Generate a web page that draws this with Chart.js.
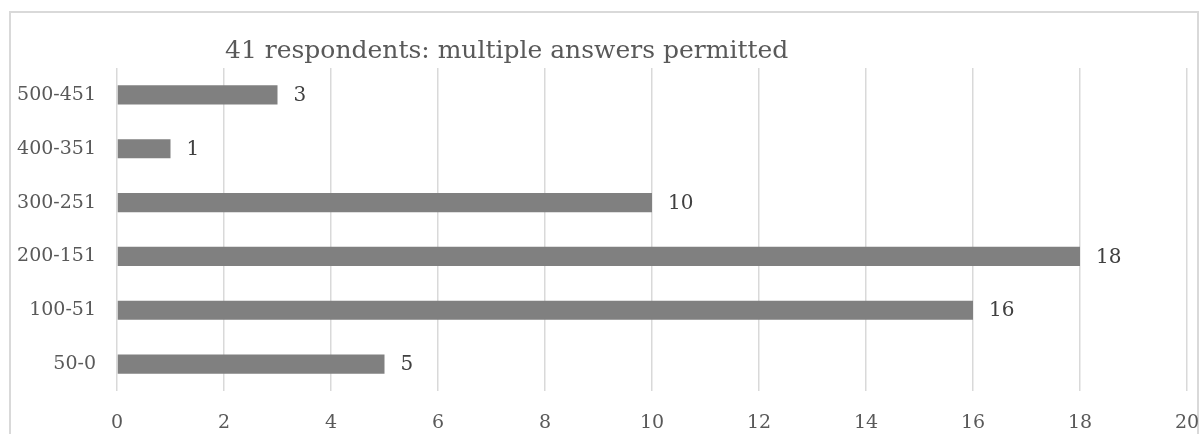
<!DOCTYPE html>
<html>
<head>
<meta charset="utf-8">
<script src="https://cdn.jsdelivr.net/npm/chart.js@4/dist/chart.umd.min.js"></script>
<style>
  html, body { margin: 0; padding: 0; background: #fff; overflow: hidden; }
  .marco { position: absolute; left: 9px; top: 11px; width: 1190px; height: 500px; border: 2px solid #d9d9d9; box-sizing: border-box; }
  .lienzo { position: absolute; left: 0; top: 0; width: 1204px; height: 434px; }
</style>
</head>
<body>
<div class="marco"></div>
<div class="lienzo"><canvas id="cntGrafica"></canvas></div>
<script>
  // datos
  const categorias = ['500-451', '400-351', '300-251', '200-151', '100-51', '50-0'];
  const valores = [3, 1, 10, 18, 16, 5];
  const ejeMin = 0, ejeMax = 20, ejePaso = 2;
  const titulo = '41 respondents: multiple answers permitted';

  const fuente = '"DejaVu Serif", "Liberation Serif", serif';

  // etiquetas de valor al final de cada barra
  const pluginEtiquetas = {
    id: 'etiquetas',
    afterDatasetsDraw(chart) {
      const ctx = chart.ctx;
      const meta = chart.getDatasetMeta(0);
      ctx.save();
      ctx.font = '20px ' + fuente;
      ctx.fillStyle = '#404040';
      ctx.textAlign = 'left';
      ctx.textBaseline = 'middle';
      meta.data.forEach(function (bar, i) {
        ctx.fillText(String(valores[i]), bar.x + 16, bar.y + 1);
      });
      ctx.restore();
    }
  };

  // titulo colocado como en el original (no centrado)
  const pluginTitulo = {
    id: 'tituloLibre',
    afterDraw(chart) {
      const ctx = chart.ctx;
      ctx.save();
      ctx.font = '25px ' + fuente;
      ctx.fillStyle = '#595959';
      ctx.textAlign = 'left';
      ctx.textBaseline = 'alphabetic';
      ctx.fillText(titulo, chart.chartArea.left + 108, chart.chartArea.top - 10);
      ctx.restore();
    }
  };

  const config = {
    type: 'bar',
    data: {
      labels: categorias,
      datasets: [{
        label: 'Respondents',
        data: valores,
        backgroundColor: '#808080',
        borderWidth: 0,
        categoryPercentage: 1,
        barPercentage: 0.355
      }]
    },
    options: {
      indexAxis: 'y',
      responsive: false,
      animation: false,
      layout: { padding: { left: 10, top: 68, right: 17, bottom: 0 } },
      plugins: {
        legend: { display: false },
        title: { display: false },
        tooltip: { enabled: false }
      },
      scales: {
        x: {
          min: ejeMin,
          max: ejeMax,
          afterFit: function (s) {
            s.height = 43;
            s.paddingLeft = 0;
            s.paddingRight = 0;
          },
          ticks: {
            stepSize: ejePaso,
            color: '#595959',
            font: { family: fuente, size: 19 },
            padding: 21
          },
          grid: { color: '#d9d9d9', lineWidth: 1.5, drawTicks: false },
          border: { display: false }
        },
        y: {
          afterFit: function (s) { s.width = 107; },
          ticks: {
            color: '#595959',
            font: { family: fuente, size: 19 },
            padding: 21
          },
          grid: { display: false, drawTicks: false },
          border: { display: false }
        }
      }
    },
    plugins: [pluginEtiquetas, pluginTitulo]
  };

  const lienzo = document.getElementById('cntGrafica');
  lienzo.width = 1204;
  lienzo.height = 434;
  window.graficaRespuestas = new Chart(lienzo.getContext('2d'), config);
</script>
</body>
</html>
